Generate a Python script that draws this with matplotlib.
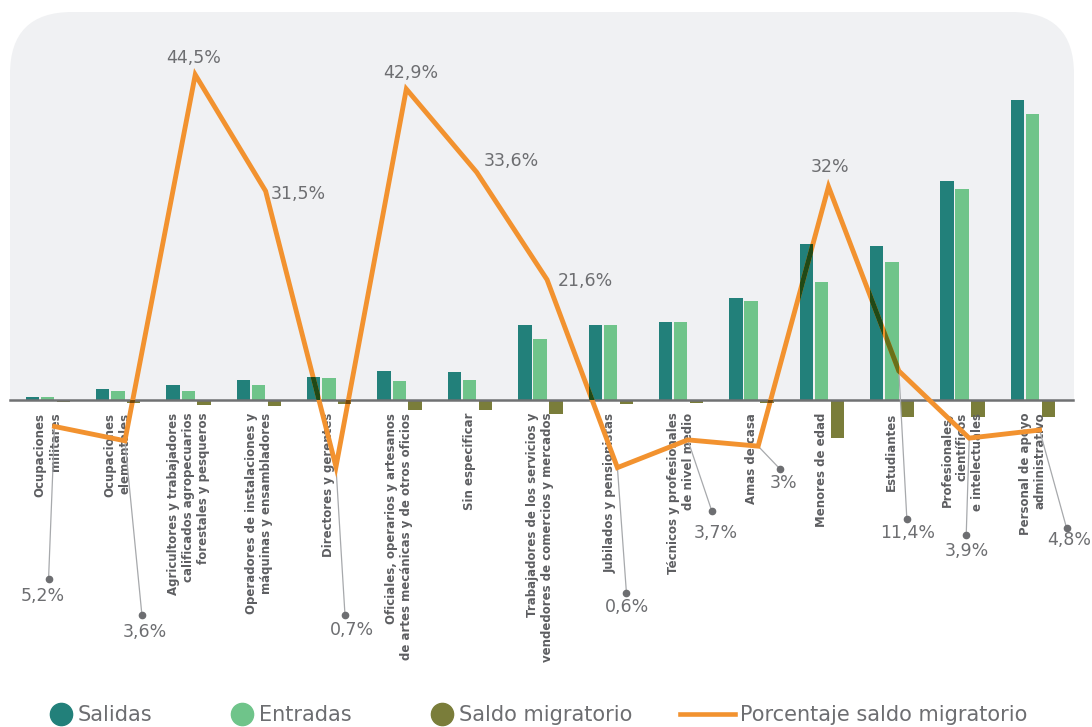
import matplotlib.pyplot as plt
import numpy as np
from matplotlib.colors import to_rgb
from matplotlib.lines import Line2D
from matplotlib.patches import FancyBboxPatch, Rectangle
from matplotlib.transforms import offset_copy

# Datos
categorias = [
    "Ocupaciones\nmilitares",
    "Ocupaciones\nelementales",
    "Agricultores y trabajadores\ncalificados agropecuarios\nforestales y pesqueros",
    "Operadores de instalaciones y\nmáquinas y ensambladores",
    "Directores y gerentes",
    "Oficiales, operarios y artesanos\nde artes mecánicas y de otros oficios",
    "Sin especificar",
    "Trabajadores de los servicios y\nvendedores de comercios y mercados",
    "Jubilados y pensionistas",
    "Técnicos y profesionales\nde nivel medio",
    "Amas de casa",
    "Menores de edad",
    "Estudiantes",
    "Profesionales,\ncientíficos\ne intelectuales",
    "Personal de apoyo\nadministrativo",
]
salidas = [3, 11, 15, 20, 23, 29, 28, 75, 75, 78, 102, 156, 154, 219, 300]
entradas = [2.5, 9, 9, 15, 22, 19, 20, 61, 75, 78, 99, 118, 138, 211, 286]
saldo = [-2.5, -3, -5.5, -6.5, -4, -10, -10, -14.5, -4, -3.5, -3.5, -38, -17, -17, -17]
porcentaje = [5.2, 3.6, 44.5, 31.5, 0.7, 42.9, 33.6, 21.6, 0.6, 3.7, 3, 32, 11.4, 3.9, 4.8]

# Posicion de cada etiqueta (pixeles respecto al punto) y del punto guia (None = sin guia)
pos_texto = [(-12, -170), (20, -191), (-2, 17), (33, -3), (16, -163), (4, 16),
             (35, 11), (38, -1), (10, -139), (28, -93), (25, -37), (2, 20),
             (9, -162), (-2, -113), (30, -110)]
pos_guia = [(-6, -153), (17, -174), None, None, (9, -148), None, None, None,
            (9, -125), (24, -71), (22, -23), None, (8, -148), (-3, -97), (27, -98)]

c_sal = "#22807a"
c_ent = "#6fc48a"
c_sald = "#7a7d3a"
c_lin = "#f2922f"
gris = "#6d6e71"


def multiplicar(a, b):
    # mezcla tipo "multiply" de la linea sobre las barras
    return tuple(x * y for x, y in zip(to_rgb(a), to_rgb(b)))


W, H = 1092, 727
fig = plt.figure(figsize=(W / 100, H / 100), dpi=100)

# fondo gris con esquinas superiores redondeadas
bg = fig.add_axes([0, 0, 1, 1], zorder=-1)
bg.set_xlim(0, W)
bg.set_ylim(H, 0)
bg.axis("off")
bg.add_patch(FancyBboxPatch((10, 12), 1064, 460, boxstyle="round,pad=0,rounding_size=62",
                            fc="#f0f1f3", ec="none"))
bg.add_patch(Rectangle((0, 400), W, H - 400, fc="white", ec="none"))

top_px, bot_px, left_px, right_px = 12, 650, 10, 1073
ax = fig.add_axes([left_px / W, 1 - bot_px / H, (right_px - left_px) / W, (bot_px - top_px) / H])
ax.patch.set_visible(False)
x = np.arange(len(categorias))
x0, paso = 47.5, 70.36
ax.set_xlim((left_px - x0) / paso, (right_px - x0) / paso)
cero = 399.5
ax.set_ylim(-(bot_px - cero), cero - top_px)

b1 = ax.bar(x - 0.215, salidas, 0.19, color=c_sal)
b2 = ax.bar(x, entradas, 0.19, color=c_ent)
b3 = ax.bar(x + 0.225, saldo, 0.19, color=c_sald)

for s in ["top", "left", "right"]:
    ax.spines[s].set_visible(False)
ax.spines["bottom"].set_position(("data", 0))
ax.spines["bottom"].set_color("#707173")
ax.spines["bottom"].set_linewidth(1.8)
ax.set_yticks([])
ax.set_xticks(x)
ax.set_xticklabels(categorias, rotation=90, ha="center", va="top", multialignment="right",
                   fontsize=8.5, fontweight="bold", color="#5d5e61")
ax.tick_params(axis="x", length=0, pad=9.5)

# eje secundario para el porcentaje
ax2 = ax.twinx()
cero2, esc = 473, 8.95
ax2.set_ylim(-(bot_px - cero2) / esc, (cero2 - top_px) / esc)
ax2.set_yticks([])
for s in ax2.spines.values():
    s.set_visible(False)

xl = x + 0.1
ax2.plot(xl, porcentaje, color=c_lin, lw=3.5, solid_joinstyle="miter", zorder=3)
for cont, col in [(b1, c_sal), (b2, c_ent), (b3, c_sald)]:
    for p in cont.patches:
        ln, = ax2.plot(xl, porcentaje, color=multiplicar(c_lin, col), lw=3.5,
                       solid_joinstyle="miter", zorder=4)
        ln.set_clip_path(p)

for i, v in enumerate(porcentaje):
    etiqueta = f"{v:g}".replace(".", ",") + "%"
    if pos_guia[i] is not None:
        dx, dy = pos_guia[i]
        ax2.annotate("", xy=(xl[i], v), xytext=(dx, dy), textcoords="offset pixels",
                     arrowprops=dict(arrowstyle="-", color="#a7a9ac", lw=0.9, shrinkA=0, shrinkB=0),
                     zorder=2)
        ax2.plot(xl[i], v, "o", ms=4.5, color=gris, clip_on=False, zorder=5,
                 transform=offset_copy(ax2.transData, fig=fig, x=dx, y=dy, units="dots"))
    tx, ty = pos_texto[i]
    ax2.annotate(etiqueta, xy=(xl[i], v), xytext=(tx, ty), textcoords="offset pixels",
                 ha="center", va="center", fontsize=12.5, color=gris, zorder=6)

# leyenda
h1 = [Line2D([], [], ls="none", marker="o", ms=16, mfc=c, mec=c) for c in [c_sal, c_ent, c_sald]]
fig.legend(h1, ["Salidas", "Entradas", "Saldo migratorio"], loc="center left",
           bbox_to_anchor=(50.6 / W, 1 - 715 / H), ncol=3, frameon=False, fontsize=15,
           handlelength=1.0, handletextpad=0.32, columnspacing=3.8, labelcolor=gris,
           borderaxespad=0, borderpad=0)
h2 = [Line2D([], [], color=c_lin, lw=3.3)]
fig.legend(h2, ["Porcentaje saldo migratorio"], loc="center left",
           bbox_to_anchor=(680 / W, 1 - 715 / H), frameon=False, fontsize=15,
           handlelength=2.64, handletextpad=0.24, labelcolor=gris,
           borderaxespad=0, borderpad=0)

fig.savefig("out.png", dpi=100)
